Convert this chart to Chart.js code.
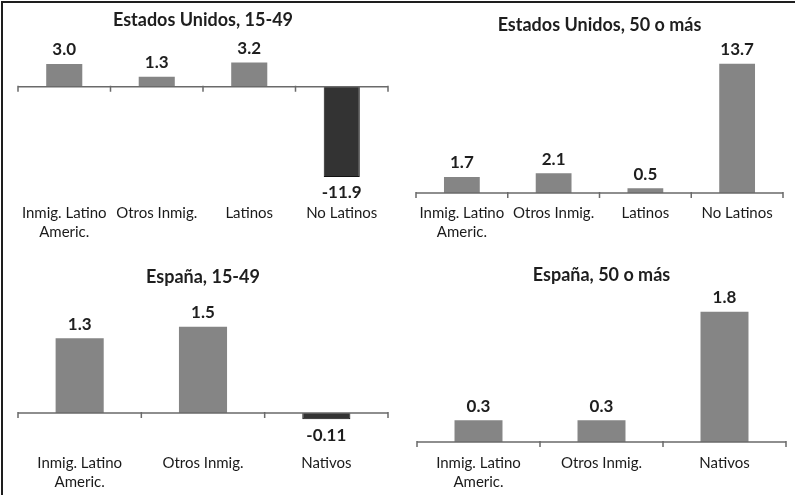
<!DOCTYPE html>
<html>
<head>
<meta charset="utf-8">
<script src="https://cdn.jsdelivr.net/npm/chart.js@4.4.0/dist/chart.umd.min.js"></script>
<style>
  html, body { margin: 0; padding: 0; background: #fff; }
  #page { position: relative; width: 795px; height: 495px; overflow: hidden; }
  #frame { position: absolute; left: 1px; top: 1px; width: 800px; height: 500px;
           border-top: 2px solid #1e1e1e; border-left: 2px solid #1e1e1e; }
  canvas { position: absolute; }
</style>
</head>
<body>
<div id="page">
  <div id="frame"></div>
  <canvas id="c1" width="397" height="250" style="left:0;top:0"></canvas>
  <canvas id="c2" width="398" height="250" style="left:397px;top:0"></canvas>
  <canvas id="c3" width="397" height="245" style="left:0;top:250px"></canvas>
  <canvas id="c4" width="398" height="245" style="left:397px;top:250px"></canvas>
</div>
<script>
// categories
const catsUS = [['Inmig. Latino', 'Americ.'], 'Otros Inmig.', 'Latinos', 'No Latinos'];
const catsES = [['Inmig. Latino', 'Americ.'], 'Otros Inmig.', 'Nativos'];

// values
const us1549 = [3.0, 1.3, 3.2, -11.9];
const us50 = [1.7, 2.1, 0.5, 13.7];
const es1549 = [1.3, 1.5, -0.11];
const es50 = [0.3, 0.3, 1.8];

const titles = ['Estados Unidos, 15-49', 'Estados Unidos, 50 o más', 'España, 15-49', 'España, 50 o más'];

const FONT = 'Lato, "DejaVu Sans", sans-serif';
const GREY = '#858585';
const DARK = '#333333';

function fmt(v) {
  return Number.isInteger(Math.round(v * 100) / 10) ? v.toFixed(1) : String(v);
}

// zero axis line with tick marks + value labels
const zeroAxis = {
  id: 'zeroAxis',
  afterDatasetsDraw(chart) {
    const ctx = chart.ctx;
    const x = chart.scales.x, y = chart.scales.y;
    const y0 = y.getPixelForValue(0);
    const n = chart.data.labels.length;
    ctx.save();
    ctx.strokeStyle = '#6a6a6a';
    ctx.lineWidth = 1.5;
    ctx.beginPath();
    ctx.moveTo(x.left, y0);
    ctx.lineTo(x.right, y0);
    for (let i = 0; i <= n; i++) {
      const px = x.left + (x.right - x.left) * i / n;
      ctx.moveTo(px, y0 - 1);
      ctx.lineTo(px, y0 + 5);
    }
    ctx.stroke();

    ctx.fillStyle = '#1e1e1e';
    ctx.font = 'bold 17px ' + FONT;
    ctx.textAlign = 'center';
    ctx.textBaseline = 'middle';
    const vals = chart.data.datasets[0].data;
    chart.getDatasetMeta(0).data.forEach(function(bar, i) {
      const v = vals[i];
      const ty = v >= 0 ? bar.y - 14 : bar.y + 16;
      ctx.fillText(fmt(v), bar.x, ty);
    });
    ctx.restore();
  }
};

function makeChart(id, labels, values, title, yMin, yMax, pad, titlePad) {
  return new Chart(document.getElementById(id), {
    type: 'bar',
    data: {
      labels: labels,
      datasets: [{
        data: values,
        backgroundColor: values.map(v => v < 0 ? DARK : GREY),
        borderColor: values.map(v => v < 0 ? '#111' : GREY),
        borderWidth: values.map(v => v < 0 ? 1 : 0),
        categoryPercentage: 1,
        barPercentage: 0.39
      }]
    },
    options: {
      responsive: false,
      animation: false,
      layout: { padding: pad },
      plugins: {
        legend: { display: false },
        tooltip: { enabled: false },
        title: {
          display: true,
          text: title,
          color: '#1e1e1e',
          font: { family: FONT, size: 18, weight: 'bold', lineHeight: 1.2 },
          padding: titlePad
        }
      },
      scales: {
        x: {
          grid: { display: false, drawTicks: false },
          border: { display: false },
          afterFit: function(scale) { scale.height = 39; },
          ticks: {
            color: '#1a1a1a',
            padding: 3,
            font: { family: FONT, size: 15, lineHeight: 1.3 }
          }
        },
        y: {
          display: false,
          min: yMin,
          max: yMax
        }
      }
    },
    plugins: [zeroAxis]
  });
}

makeChart('c1', catsUS, us1549, titles[0], -14.94, 6.21,
  { left: 18, right: 9, top: 0, bottom: 11 }, { top: 9, bottom: 9 });
makeChart('c2', catsUS, us50, titles[1], -0.74, 16.25,
  { left: 19, right: 12, top: 0, bottom: 11 }, { top: 14, bottom: 4 });
makeChart('c3', catsES, es1549, titles[2], -0.645, 2.145,
  { left: 18, right: 9, top: 0, bottom: 6 }, { top: 16, bottom: 2 });
makeChart('c4', catsES, es50, titles[3], -0.111, 2.105,
  { left: 20, right: 9, top: 0, bottom: 6 }, { top: 14, bottom: 4 });
</script>
</body>
</html>
